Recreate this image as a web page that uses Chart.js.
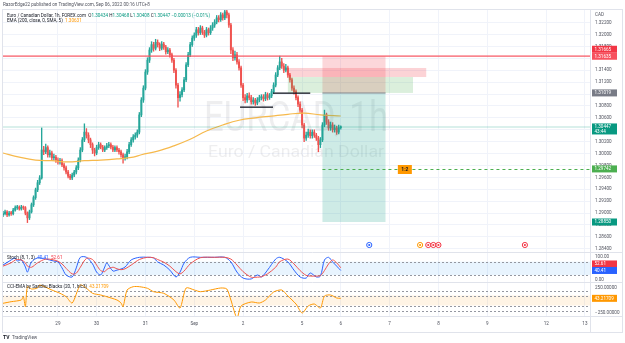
<!DOCTYPE html>
<html><head><meta charset="utf-8">
<script src="https://cdn.jsdelivr.net/npm/chart.js@4"></script>
<style>
html,body{margin:0;padding:0;background:#fff;width:625px;height:343px;overflow:hidden}
canvas{position:absolute}
#cPrice{left:2px;top:0}
#cStoch{left:2px;top:252px}
#cCci{left:2px;top:282px}
#overlay{left:0;top:0;pointer-events:none}
</style></head><body>
<canvas id="cPrice" width="621" height="252"></canvas>
<canvas id="cStoch" width="621" height="30"></canvas>
<canvas id="cCci" width="621" height="61"></canvas>
<canvas id="overlay" width="625" height="343"></canvas>
<script>
// ---------- DATA ----------
const totalSlots = 289;
const dayTickIdx = [27,46,70,94,118,147,166,190,214,238,267,286];
const dayTickLabels = ['29','30','31','Sep','2','5','6','7','8','9','12','13'];
const priceTicks = [1.284,1.286,1.288,1.290,1.292,1.294,1.296,1.298,1.300,1.302,1.304,1.306,1.308,1.310,1.312,1.314,1.316,1.318,1.320,1.322];

const firstOpen = 1.2897;
const closes = [
1.2899,1.2902,1.2897,1.2900,1.2899,1.2905,1.2909,1.2910,1.2907,1.2910,
1.2909,1.2900,1.2892,1.2902,1.2914,1.2926,1.2939,1.2951,1.2959,1.3006,
1.3003,1.3010,1.2998,1.3001,1.2993,1.2994,1.2989,1.2986,1.2988,1.2981,
1.2976,1.2969,1.2962,1.2959,1.2964,1.2969,1.2976,1.2989,1.3006,1.3023,
1.3036,1.3031,1.3023,1.3015,1.3006,1.3001,1.3010,1.3015,1.3011,1.3006,
1.3010,1.3013,1.3015,1.3011,1.3006,1.3010,1.3006,1.3003,1.2998,1.2993,
1.2994,1.3003,1.3015,1.3023,1.3028,1.3031,1.3036,1.3065,1.3090,1.3110,
1.3137,1.3157,1.3174,1.3183,1.3177,1.3187,1.3183,1.3177,1.3184,1.3179,
1.3171,1.3174,1.3166,1.3157,1.3140,1.3115,1.3094,1.3099,1.3107,1.3124,
1.3149,1.3166,1.3183,1.3194,1.3199,1.3208,1.3203,1.3211,1.3204,1.3199,
1.3208,1.3203,1.3211,1.3216,1.3221,1.3228,1.3225,1.3233,1.3228,1.3238,
1.3233,1.3216,1.3174,1.3161,1.3166,1.3154,1.3144,1.3115,1.3094,1.3090,
1.3097,1.3094,1.3087,1.3090,1.3085,1.3090,1.3094,1.3095,1.3092,1.3099,
1.3094,1.3097,1.3104,1.3115,1.3132,1.3144,1.3154,1.3147,1.3140,1.3144,
1.3132,1.3124,1.3110,1.3104,1.3094,1.3083,1.3073,1.3048,1.3026,1.3031,
1.3036,1.3030,1.3036,1.3031,1.3026,1.3015,1.3023,1.3048,1.3065,1.3053,
1.3043,1.3048,1.3040,1.3043,1.3036,1.30434,1.30447];
const highs = [
1.2903,1.2905,1.2904,1.2903,1.2903,1.2908,1.2912,1.2913,1.2912,1.2913,
1.2912,1.2911,1.2902,1.2905,1.2917,1.2929,1.2942,1.2955,1.2963,1.3043,
1.3012,1.3016,1.3013,1.3006,1.3004,1.2999,1.2997,1.2993,1.2992,1.2991,
1.2984,1.2979,1.2972,1.2965,1.2967,1.2972,1.2980,1.2993,1.3010,1.3027,
1.3050,1.3042,1.3035,1.3026,1.3018,1.3009,1.3014,1.3019,1.3018,1.3014,
1.3013,1.3017,1.3019,1.3018,1.3014,1.3013,1.3013,1.3009,1.3006,1.3001,
1.2999,1.3007,1.3019,1.3027,1.3032,1.3035,1.3040,1.3069,1.3094,1.3114,
1.3141,1.3161,1.3178,1.3188,1.3187,1.3192,1.3191,1.3186,1.3188,1.3187,
1.3182,1.3178,1.3177,1.3169,1.3160,1.3143,1.3118,1.3104,1.3111,1.3128,
1.3153,1.3170,1.3187,1.3198,1.3203,1.3212,1.3212,1.3215,1.3214,1.3207,
1.3212,1.3211,1.3215,1.3220,1.3225,1.3232,1.3232,1.3237,1.3236,1.3245,
1.3242,1.3236,1.3219,1.3178,1.3172,1.3170,1.3158,1.3147,1.3118,1.3099,
1.3101,1.3102,1.3098,1.3094,1.3093,1.3094,1.3098,1.3099,1.3099,1.3103,
1.3102,1.3101,1.3108,1.3119,1.3136,1.3148,1.3164,1.3160,1.3151,1.3150,
1.3147,1.3135,1.3127,1.3114,1.3107,1.3097,1.3087,1.3076,1.3051,1.3036,
1.3041,1.3040,1.3040,1.3040,1.3034,1.3029,1.3027,1.3052,1.3073,1.3068,
1.3057,1.3053,1.3052,1.3048,1.3046,1.3048,1.30468];
const lows = [
1.2894,1.2897,1.2894,1.2895,1.2896,1.2897,1.2903,1.2906,1.2905,1.2905,
1.2906,1.2897,1.2884,1.2889,1.2900,1.2911,1.2923,1.2936,1.2948,1.2957,
1.2998,1.3000,1.2994,1.2994,1.2988,1.2989,1.2985,1.2982,1.2982,1.2978,
1.2972,1.2966,1.2959,1.2956,1.2956,1.2961,1.2966,1.2973,1.2986,1.3003,
1.3020,1.3026,1.3018,1.3010,1.3000,1.2996,1.2998,1.3007,1.3008,1.3003,
1.3003,1.3007,1.3010,1.3008,1.3003,1.3003,1.3003,1.2999,1.2994,1.2984,
1.2989,1.2991,1.3000,1.3012,1.3019,1.3024,1.3027,1.3033,1.3062,1.3086,
1.3107,1.3133,1.3153,1.3170,1.3172,1.3174,1.3179,1.3173,1.3174,1.3175,
1.3167,1.3168,1.3162,1.3153,1.3136,1.3110,1.3078,1.3088,1.3095,1.3104,
1.3121,1.3146,1.3163,1.3180,1.3190,1.3195,1.3199,1.3200,1.3200,1.3195,
1.3196,1.3199,1.3200,1.3207,1.3212,1.3218,1.3221,1.3222,1.3224,1.3225,
1.3228,1.3212,1.3168,1.3156,1.3157,1.3150,1.3140,1.3111,1.3089,1.3085,
1.3086,1.3090,1.3083,1.3083,1.3081,1.3082,1.3087,1.3090,1.3088,1.3089,
1.3090,1.3091,1.3094,1.3101,1.3112,1.3129,1.3141,1.3143,1.3136,1.3137,
1.3128,1.3120,1.3106,1.3100,1.3090,1.3079,1.3069,1.3043,1.3020,1.3022,
1.3027,1.3026,1.3026,1.3027,1.3022,1.3003,1.3010,1.3020,1.3045,1.3049,
1.3039,1.3039,1.3036,1.3036,1.3032,1.3033,1.30408];

const emaIdx  = [0,8,16,24,32,40,48,56,64,68,76,84,92,100,108,116,124,132,140,148,156,166];
const emaVals = [1.3001,1.2994,1.2989,1.2988,1.2986,1.2988,1.2989,1.2991,1.2994,1.2998,1.3004,1.3013,1.3024,1.3038,1.3048,1.3056,1.3060,1.3063,1.3066,1.3068,1.3065,1.30631];

const stochIdx = [0,4,6,7,9,11,12,14,17,21,25,27,29,31,34,36,38,41,44,46,48,50,51,54,56,58,60,63,67,71,74,76,79,82,85,87,89,92,97,104,109,112,115,118,122,125,127,130,134,136,140,143,146,149,151,154,156,158,160,162,164,166];
const stochK = [65,88,97,83,88,56,33,79,97,92,83,79,52,20,11,52,100,100,70,33,20,56,74,38,42,47,56,88,100,100,97,79,65,42,11,33,74,100,100,100,100,79,33,6,2,20,11,42,92,100,79,42,11,6,29,11,15,88,100,79,60,40.41];
const stochD = [60,75,88,90,88,75,60,55,75,92,88,82,70,50,25,28,55,95,90,65,40,35,45,55,48,44,48,65,90,100,98,90,78,60,35,25,38,70,98,100,100,92,65,35,10,10,12,25,55,80,92,70,40,18,15,15,17,40,70,88,75,52.61];

const cciIdx  = [0,4,9,10,11,12,14,17,18,24,28,31,34,38,41,44,48,51,56,58,59,61,64,67,71,74,79,84,87,90,94,97,102,107,110,112,115,117,122,126,129,133,137,140,144,147,150,153,156,158,161,164,166];
const cciVals = [-56,-24,10,76,-124,276,230,250,310,210,144,76,-50,310,244,144,110,76,10,-50,-124,210,276,276,244,176,144,10,-150,250,210,176,210,250,230,10,-350,-110,-30,-50,10,170,210,90,-70,-250,-110,-70,-150,90,110,50,43.21709];

const levels = {stop:1.31635, entry:1.31019, target:1.28850, ratio:1.29742, last:1.30447};
const positionIdx = [157, 188];
const pinkZone = {from:140, to:208, top:1.31438, bottom:1.31286};
const greenZone = {from:140, to:201.5, top:1.31286, bottom:1.31019};
const blackLines = [{from:116.5, to:132.7, p:1.30787}, {from:132.7, to:151, p:1.3102}];
const ratioLabelIdx = 197.5;
const events = [{i:180, c:'#2962ff'}, {i:205, c:'#ff9800'}, {i:209, c:'#f23645'}, {i:211.5, c:'#f23645'}, {i:214, c:'#f23645'}, {i:256.5, c:'#f23645'}];

// ---------- CHARTS ----------
const FONT = 'Roboto, "Noto Sans", sans-serif';
Chart.defaults.font.family = FONT;
const UP = '#26a69a', DOWN = '#ef5350';
const N = closes.length;
const opens = [firstOpen].concat(closes.slice(0, N - 1));
const idx = closes.map((_, i) => i);
const candleColor = i => closes[i] >= opens[i] ? UP : DOWN;
const AXW = 33;

function noPad(s) { s.paddingTop = 0; s.paddingBottom = 0; s.paddingLeft = 0; s.paddingRight = 0; }
function xScale(show) {
  return {
    type: 'linear', min: -0.5, max: totalSlots - 0.5, bounds: 'data', offset: false,
    afterBuildTicks: s => { s.ticks = dayTickIdx.map(v => ({value: v})); },
    afterFit: s => { s.height = show ? 16 : 0; noPad(s); },
    grid: {color: '#f0f3fa', drawTicks: false, offset: false},
    border: {display: false},
    ticks: {display: show, autoSkip: false, maxRotation: 0, padding: 5,
      font: {size: 4.6}, color: '#50535e',
      callback: v => { const k = dayTickIdx.indexOf(v); return k >= 0 ? dayTickLabels[k] : ''; }}
  };
}
function yScale(min, max, ticks, fmt, grid) {
  return {
    type: 'linear', position: 'right', min, max, bounds: 'data',
    afterBuildTicks: s => { s.ticks = ticks.map(v => ({value: v})); },
    afterFit: s => { s.width = AXW; noPad(s); },
    grid: {display: grid, color: '#f0f3fa', drawTicks: false},
    border: {display: false},
    ticks: {padding: 5, font: {size: 4.6}, color: '#50535e', callback: fmt}
  };
}
const baseOpts = {
  responsive: false, maintainAspectRatio: false, animation: false, devicePixelRatio: 1,
  plugins: {legend: {display: false}, tooltip: {enabled: false}}
};

function axisTag(ctx, cy, text, bg, fg, sub) {
  const x0 = 590, w = 25, h = sub ? 11 : 7;
  ctx.fillStyle = bg;
  ctx.fillRect(x0, cy - (sub ? 3.5 : h / 2), w, h);
  ctx.fillStyle = fg; ctx.font = '4.6px ' + FONT; ctx.textAlign = 'left'; ctx.textBaseline = 'middle';
  ctx.fillText(text, x0 + 2.5, cy + 0.3);
  if (sub) ctx.fillText(sub, x0 + 2.5, cy + 5);
}

const pricePlugin = {
  id: 'pricePlugin',
  beforeDatasetsDraw(chart) {
    const {ctx, chartArea: a} = chart;
    ctx.save();
    ctx.fillStyle = 'rgba(120,123,134,0.13)';
    ctx.textAlign = 'center'; ctx.textBaseline = 'alphabetic';
    const cx = (a.left + a.right) / 2;
    ctx.font = '42px ' + FONT;
    const t1 = 'EURCAD, 1h';
    const w1 = ctx.measureText(t1).width;
    ctx.save(); ctx.translate(cx, 131); ctx.scale(184 / w1, 1); ctx.fillText(t1, 0, 0); ctx.restore();
    ctx.font = '16px ' + FONT;
    const t2 = 'Euro / Canadian Dollar';
    const w2 = ctx.measureText(t2).width;
    ctx.save(); ctx.translate(cx, 157); ctx.scale(176 / w2, 1); ctx.fillText(t2, 0, 0); ctx.restore();
    ctx.restore();
  },
  afterDatasetsDraw(chart) {
    const {ctx, chartArea: a, scales: {x: sx, y: sy}} = chart;
    const X = v => sx.getPixelForValue(v), Y = v => sy.getPixelForValue(v);
    ctx.save();
    ctx.beginPath(); ctx.rect(a.left, a.top, a.right - a.left, a.bottom - a.top); ctx.clip();
    ctx.fillStyle = 'rgba(8,153,129,0.3)';
    ctx.fillRect(a.left, Math.round(Y(levels.last)) - 0.5, a.right - a.left, 1);
    const px0 = X(positionIdx[0]), px1 = X(positionIdx[1]);
    ctx.fillStyle = 'rgba(242,54,69,0.2)';
    ctx.fillRect(px0, Y(levels.stop), px1 - px0, Y(levels.entry) - Y(levels.stop));
    ctx.fillStyle = 'rgba(8,153,129,0.2)';
    ctx.fillRect(px0, Y(levels.entry), px1 - px0, Y(levels.target) - Y(levels.entry));
    ctx.fillStyle = 'rgba(242,54,69,0.22)';
    ctx.fillRect(X(pinkZone.from), Y(pinkZone.top), X(pinkZone.to) - X(pinkZone.from), Y(pinkZone.bottom) - Y(pinkZone.top));
    ctx.fillStyle = 'rgba(76,175,80,0.2)';
    ctx.fillRect(X(greenZone.from), Y(greenZone.top), X(greenZone.to) - X(greenZone.from), Y(greenZone.bottom) - Y(greenZone.top));
    ctx.fillStyle = 'rgba(120,123,134,0.9)';
    ctx.fillRect(px0, Math.round(Y(levels.entry)) - 0.5, px1 - px0, 1);
    ctx.fillStyle = '#131722';
    blackLines.forEach(l => ctx.fillRect(X(l.from), Math.round(Y(l.p)) - 0.5, X(l.to) - X(l.from), 1.3));
    ctx.fillStyle = '#f7525f';
    ctx.fillRect(a.left, Math.round(Y(levels.stop)) - 0.5, a.right - a.left, 1.2);
    ctx.strokeStyle = '#4caf50'; ctx.lineWidth = 1; ctx.setLineDash([3, 3]);
    ctx.beginPath(); const ry = Math.round(Y(levels.ratio)) + 0.5;
    ctx.moveTo(px0, ry); ctx.lineTo(a.right, ry); ctx.stroke(); ctx.setLineDash([]);
    const lx = X(ratioLabelIdx);
    ctx.fillStyle = '#ff9800'; ctx.fillRect(lx - 7, ry - 4.5, 14, 9);
    ctx.fillStyle = '#131722'; ctx.font = 'bold 5px ' + FONT; ctx.textAlign = 'center'; ctx.textBaseline = 'middle';
    ctx.fillText('1:2', lx, ry + 0.3);
    events.forEach(e => {
      const ex = X(e.i), ey = a.bottom - 7;
      ctx.beginPath(); ctx.arc(ex, ey, 2.6, 0, Math.PI * 2);
      ctx.fillStyle = '#fff'; ctx.fill(); ctx.lineWidth = 1; ctx.strokeStyle = e.c; ctx.stroke();
      ctx.beginPath(); ctx.arc(ex, ey, 1.1, 0, Math.PI * 2); ctx.fillStyle = e.c; ctx.fill();
    });
    ctx.restore();
  },
  afterDraw(chart) {
    const {ctx, scales: {y: sy}} = chart;
    const Y = v => sy.getPixelForValue(v);
    ctx.save();
    ctx.fillStyle = '#fff'; ctx.fillRect(589, 0, 32, 9);
    axisTag(ctx, Y(levels.stop) - 7, '1.31665', '#f23645', '#fff');
    axisTag(ctx, Y(levels.stop), '1.31635', '#f7525f', '#fff');
    axisTag(ctx, Y(levels.entry), '1.31019', '#787b86', '#fff');
    axisTag(ctx, Y(levels.last), '1.30447', '#089981', '#fff', '43:44');
    axisTag(ctx, Y(levels.ratio), '1.29742', '#4caf50', '#fff');
    axisTag(ctx, Y(levels.target), '1.28850', '#089981', '#fff');
    ctx.restore();
  }
};

new Chart(document.getElementById('cPrice'), {
  type: 'bar',
  data: {datasets: [
    {type: 'line', data: emaIdx.map((x, k) => ({x, y: emaVals[k]})), borderColor: '#f6b94c', borderWidth: 1.2,
     pointRadius: 0, tension: 0.4, order: 0},
    {data: idx.map(i => ({x: i, y: [lows[i], highs[i]]})), backgroundColor: c => candleColor(c.dataIndex),
     barThickness: 0.7, grouped: false, order: 2},
    {data: idx.map(i => ({x: i, y: [opens[i], closes[i]]})), backgroundColor: c => candleColor(c.dataIndex),
     barThickness: 1.3, grouped: false, minBarLength: 1, order: 1}
  ]},
  options: Object.assign({}, baseOpts, {
    layout: {padding: {top: 9, left: 0, right: 0, bottom: 0}},
    scales: {
      x: xScale(false),
      y: yScale(1.28346, 1.32429, priceTicks, v => v.toFixed(5), true)
    }
  }),
  plugins: [pricePlugin]
});

const stochPlugin = {
  id: 'stochPlugin',
  beforeDatasetsDraw(chart) {
    const {ctx, chartArea: a, scales: {y}} = chart;
    const y80 = y.getPixelForValue(80), y20 = y.getPixelForValue(20);
    ctx.save();
    ctx.fillStyle = 'rgba(33,150,243,0.1)';
    ctx.fillRect(a.left, y80, a.right - a.left, y20 - y80);
    ctx.strokeStyle = '#9598a1'; ctx.lineWidth = 1; ctx.setLineDash([2, 2]);
    [y80, y20].forEach(yy => { ctx.beginPath(); ctx.moveTo(a.left, Math.round(yy) + 0.5); ctx.lineTo(a.right, Math.round(yy) + 0.5); ctx.stroke(); });
    ctx.restore();
  },
  afterDraw(chart) {
    const {ctx, scales: {y}} = chart;
    const by = y.getPixelForValue(stochK[stochK.length - 1]);
    ctx.save();
    axisTag(ctx, by - 6.5, stochD[stochD.length - 1].toFixed(2), '#f23645', '#fff');
    axisTag(ctx, by, stochK[stochK.length - 1].toFixed(2), '#2962ff', '#fff');
    ctx.restore();
  }
};
new Chart(document.getElementById('cStoch'), {
  type: 'line',
  data: {datasets: [
    {data: stochIdx.map((x, k) => ({x, y: stochD[k]})), borderColor: '#ef5350', borderWidth: 1, pointRadius: 0, tension: 0.3},
    {data: stochIdx.map((x, k) => ({x, y: stochK[k]})), borderColor: '#2962ff', borderWidth: 1, pointRadius: 0, tension: 0.3}
  ]},
  options: Object.assign({}, baseOpts, {
    layout: {padding: 0},
    scales: {x: xScale(false), y: yScale(-11.8, 124, [0, 100], v => v.toFixed(2), false)}
  }),
  plugins: [stochPlugin]
});

const cciPlugin = {
  id: 'cciPlugin',
  beforeDatasetsDraw(chart) {
    const {ctx, chartArea: a, scales: {y}} = chart;
    const yp = y.getPixelForValue(100), yn = y.getPixelForValue(-100);
    ctx.save();
    ctx.fillStyle = 'rgba(255,152,0,0.1)';
    ctx.fillRect(a.left, yp, a.right - a.left, yn - yp);
    ctx.strokeStyle = '#9598a1'; ctx.lineWidth = 1; ctx.setLineDash([2, 2]);
    [200, 100, -100, -200].forEach(v => { const yy = Math.round(y.getPixelForValue(v)) + 0.5; ctx.beginPath(); ctx.moveTo(a.left, yy); ctx.lineTo(a.right, yy); ctx.stroke(); });
    ctx.restore();
  },
  afterDraw(chart) {
    const {ctx, scales: {y}} = chart;
    const v = cciVals[cciVals.length - 1];
    ctx.save();
    axisTag(ctx, y.getPixelForValue(v), v.toFixed(5), '#ff9800', '#fff');
    ctx.restore();
  }
};
new Chart(document.getElementById('cCci'), {
  type: 'line',
  data: {datasets: [
    {data: cciIdx.map((x, k) => ({x, y: cciVals[k]})), borderColor: '#ff9800', borderWidth: 1, pointRadius: 0, tension: 0.25}
  ]},
  options: Object.assign({}, baseOpts, {
    layout: {padding: {top: 0, left: 0, right: 0, bottom: 11}},
    scales: {x: xScale(true), y: yScale(-310, 370, [250, -250], v => (v < 0 ? '\u2212' : '') + Math.abs(v).toFixed(5), false)}
  }),
  plugins: [cciPlugin]
});

// ---------- OVERLAY (frame, header, legends) ----------
const o = document.getElementById('overlay').getContext('2d');
o.strokeStyle = '#e0e3eb'; o.lineWidth = 1;
o.strokeRect(2.5, 9.5, 620, 323);
o.beginPath();
o.moveTo(590.5, 9.5); o.lineTo(590.5, 332.5);
[252.5, 282.5, 316.5].forEach(yy => { o.moveTo(2.5, yy); o.lineTo(622.5, yy); });
o.stroke();
o.textBaseline = 'middle'; o.textAlign = 'left';
o.font = '4.6px ' + FONT;
function seg(parts, x, y) {
  parts.forEach(([t, c]) => { o.fillStyle = c; o.fillText(t, x, y); x += o.measureText(t).width; });
}
seg([['RazorEdge22 published on TradingView.com, Sep 06, 2022 00:16 UTC+8', '#50535e']], 3, 4.5);
const G = '#089981', D = '#131722';
seg([['Euro / Canadian Dollar, 1h, FOREX.com  ', D], ['O', D], ['1.30434 ', G], ['H', D], ['1.30468 ', G],
     ['L', D], ['1.30408 ', G], ['C', D], ['1.30447 ', G], ['\u22120.00013 (\u22120.01%)', G]], 7, 15.5);
seg([['EMA (200, close, 0, SMA, 5)  ', D], ['1.30631', '#ff9800']], 7, 21);
seg([['Stoch (8, 1, 3)  ', D], ['40.41  ', '#2962ff'], ['52.61', '#f23645']], 7, 258);
seg([['CCI-EMA by Sandhu Blacks (20, 1, hlc3)  ', D], ['43.21709', '#ff9800']], 7, 286.5);
seg([['CAD', '#50535e']], 595, 14.5);
o.font = 'bold 5px ' + FONT;
seg([['TV', D]], 3, 337.5);
o.font = '4.6px ' + FONT;
seg([['TradingView', '#50535e']], 12, 337.5);
</script>
</body></html>
